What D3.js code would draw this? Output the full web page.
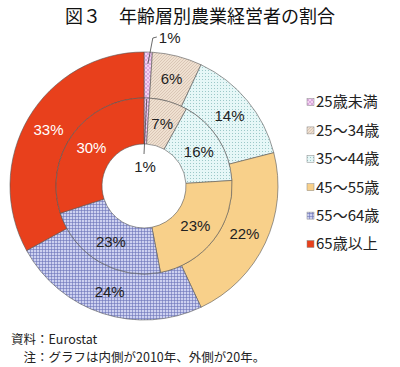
<!DOCTYPE html>
<html><head><meta charset="utf-8">
<script src="https://cdn.jsdelivr.net/npm/d3@7"></script>
<style>body{margin:0;background:#fff;}svg{display:block;}</style>
</head><body>
<svg id="c" width="400" height="367"></svg>
<script>
const categories = ["25歳未満","25～34歳","35～44歳","45～55歳","55～64歳","65歳以上"];
const values2010 = [1,7,16,23,23,30];
const values2020 = [1,6,14,22,24,33];
const labels2010 = ["1%","7%","16%","23%","23%","30%"];
const labels2020 = ["1%","6%","14%","22%","24%","33%"];
const title = "図３　年齢層別農業経営者の割合";
const notes = ["資料：Eurostat","　注：グラフは内側が2010年、外側が20年。"];

const svg = d3.select("#c");
const defs = svg.append("defs");
function pat(id, bg, size, draw){
  const p = defs.append("pattern").attr("id",id).attr("patternUnits","userSpaceOnUse")
    .attr("width",size).attr("height",size);
  p.append("rect").attr("width",size).attr("height",size).attr("fill",bg);
  draw(p,size);
}
pat("p0","#f4d2f2",4,(p,s)=>{
  p.append("path").attr("d",`M0,0L${s},${s}M${s},0L0,${s}`).attr("stroke","#c080c8").attr("stroke-width",0.5);
});
pat("p1","#efe0d0",3,(p,s)=>{
  p.append("path").attr("d",`M0,${s}L${s},0M-1,1L1,-1M${s-1},${s+1}L${s+1},${s-1}`).attr("stroke","#c4ad9c").attr("stroke-width",0.5);
});
pat("p2","#e6f7f7",3,(p,s)=>{
  p.append("rect").attr("x",1).attr("y",1).attr("width",1).attr("height",1).attr("fill","#9cc8c8");
});
pat("p4","#cdd1f0",3,(p,s)=>{
  p.append("path").attr("d",`M0,0.5H${s}M0.5,0V${s}`).attr("stroke","#6b73b8").attr("stroke-width",0.6);
});
const fills = ["url(#p0)","url(#p1)","url(#p2)","#f8d08a","url(#p4)","#e8401c"];
const color = d3.scaleOrdinal().domain(categories).range(fills);

const cx = 144, cy = 186;
const rHole = 42, rMid = 88, rOut = 134;
const g = svg.append("g").attr("transform",`translate(${cx},${cy})`);
const pie = d3.pie().sort(null).value(d=>d.v);
const mk = vals => pie(categories.map((c,i)=>({c, v:vals[i], i})));
const arcIn = d3.arc().innerRadius(rHole).outerRadius(rMid);
const arcOut = d3.arc().innerRadius(rMid).outerRadius(rOut);

g.selectAll("path.out").data(mk(values2020)).join("path").attr("class","out")
  .attr("d",arcOut).attr("fill",d=>color(d.data.c)).attr("stroke","#555").attr("stroke-width",0.6);
g.selectAll("path.in").data(mk(values2010)).join("path").attr("class","in")
  .attr("d",arcIn).attr("fill",d=>color(d.data.c)).attr("stroke","#555").attr("stroke-width",0.6);

const font = "'Liberation Sans', Arial, sans-serif";
const lblOut = d3.arc().innerRadius(111).outerRadius(111);
const lblIn = d3.arc().innerRadius(65).outerRadius(65);
g.selectAll("text.out").data(mk(values2020).filter(d=>d.data.i>0)).join("text").attr("class","out")
  .attr("transform",d=>`translate(${lblOut.centroid(d)})`)
  .attr("text-anchor","middle").attr("dy","0.36em")
  .attr("font-family",font).attr("font-size",15)
  .attr("fill",d=>d.data.i===5?"#fff":"#222").text(d=>labels2020[d.data.i]);
g.selectAll("text.in").data(mk(values2010).filter(d=>d.data.i>0)).join("text").attr("class","in")
  .attr("transform",d=>`translate(${lblIn.centroid(d)})`)
  .attr("text-anchor","middle").attr("dy","0.36em")
  .attr("font-family",font).attr("font-size",15)
  .attr("fill",d=>d.data.i===5?"#fff":"#222").text(d=>labels2010[d.data.i]);

// leader for outer 1%
const o0 = mk(values2020)[0];
const pO = d3.arc().innerRadius(122).outerRadius(122).centroid(o0);
g.append("path").attr("d",`M${pO[0]},${pO[1]}L${pO[0]+5},${-rOut-14}L${pO[0]+9},${-rOut-15}`)
  .attr("fill","none").attr("stroke","#444").attr("stroke-width",0.8);
g.append("text").attr("x",pO[0]+11).attr("y",-rOut-14).attr("dy","0.36em").attr("font-family",font).attr("font-size",15)
  .attr("fill","#222").text(labels2020[0]);
// leader for inner 1%
const i0 = mk(values2010)[0];
const pI = d3.arc().innerRadius(rMid-1).outerRadius(rMid-1).centroid(i0);
g.append("path").attr("d",`M${pI[0]},${pI[1]}L0,-32`)
  .attr("fill","none").attr("stroke","#444").attr("stroke-width",0.8);
g.append("text").attr("x",1).attr("y",-19).attr("dy","0.36em").attr("text-anchor","middle")
  .attr("font-family",font).attr("font-size",15).attr("fill","#222").text(labels2010[0]);

// legend
const ly = d3.scalePoint().domain(categories).range([102,244]);
const lg = svg.append("g");
categories.forEach(c=>{
  lg.append("rect").attr("x",307).attr("y",ly(c)-3.5).attr("width",7).attr("height",7)
    .attr("fill",color(c)).attr("stroke","#888").attr("stroke-width",0.5);
  lg.append("text").attr("x",316).attr("y",ly(c)).attr("dy","0.36em")
    .attr("font-family","'Noto Sans CJK JP', sans-serif").attr("font-size",15).attr("fill","#222").text(c);
});

svg.append("text").attr("x",200).attr("y",23).attr("text-anchor","middle")
  .attr("font-family","'Noto Sans CJK JP', sans-serif").attr("font-size",18).attr("fill","#111").text(title);
svg.append("text").attr("x",11).attr("y",344)
  .attr("font-family","'Noto Sans CJK JP', sans-serif").attr("font-size",12.5).attr("fill","#222").text(notes[0]);
svg.append("text").attr("x",11).attr("y",362).attr("xml:space","preserve").style("white-space","pre")
  .attr("font-family","'Noto Sans CJK JP', sans-serif").attr("font-size",12.5).attr("fill","#222").text(notes[1]);
</script>
</body></html>
